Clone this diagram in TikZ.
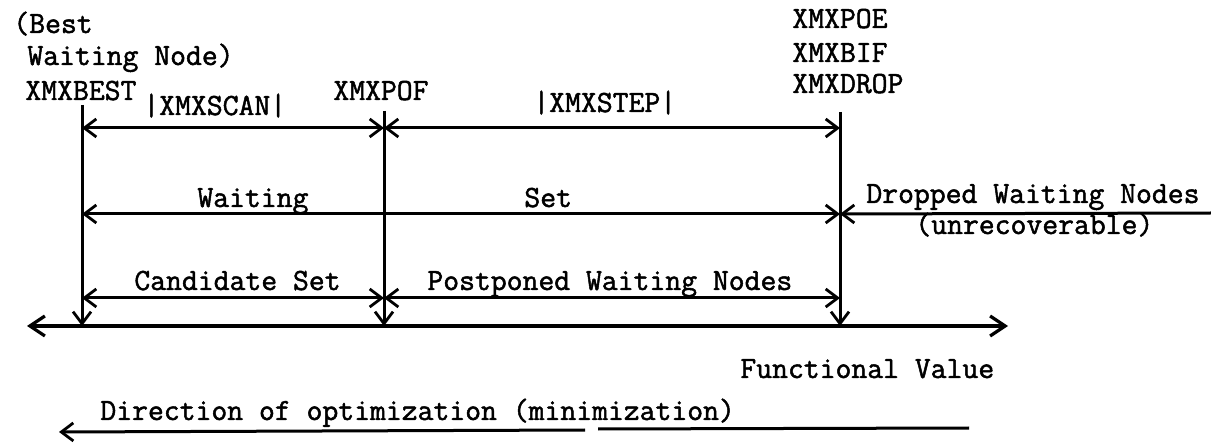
\documentclass[tikz,border=0pt]{standalone}
\usepackage{fontspec}
\usetikzlibrary{arrows.meta}
\newfontfamily\typewr{Latin Modern Mono}[FakeBold=1.6]
\newcommand{\tw}{\fontsize{15.4}{18}\typewr\bfseries}
\tikzset{
  lbl/.style={anchor=base west, inner sep=0pt, font=\tw},
  tipsmall/.tip={Straight Barb[length=6pt,width=9pt,line width=1.4pt]},
  tipbig/.tip={Straight Barb[length=7.5pt,width=10pt,line width=1.6pt]},
  rule/.style={line width=1.5pt},
  span/.style={rule, tipsmall-tipsmall},
}
\begin{document}
\begin{tikzpicture}[x=0.5pt,y=-0.5pt]
\useasboundingbox (0,0) rectangle (1211,443);

% marker positions on the value axis
\coordinate (bestTop) at (82,105);
\coordinate (pofTop)  at (384,111);
\coordinate (dropTop) at (840,112);
\coordinate (bestAx)  at (82,326);
\coordinate (pofAx)   at (384,326);
\coordinate (dropAx)  at (840,326);
\coordinate (axL)     at (27,326);
\coordinate (axR)     at (1008,326);

% interval rows
\coordinate (r1a) at (82,128);  \coordinate (r1b) at (384,128);  \coordinate (r1c) at (840,128);
\coordinate (r2a) at (82,214);  \coordinate (r2c) at (840,214);  \coordinate (r2e) at (1211,213);
\coordinate (r3a) at (82,298);  \coordinate (r3b) at (384,298);  \coordinate (r3c) at (840,298);

% optimization direction arrow
\coordinate (dirR)  at (969,428);
\coordinate (dirM1) at (598,429);
\coordinate (dirM2) at (585,430);
\coordinate (dirL)  at (59,432);

% labels
\node[lbl] (best1) at (13,33)  {(Best};
\node[lbl] (best2) at (27,65)  {Waiting Node)};
\node[lbl] (best3) at (25,100) {XMXBEST};
\node[lbl] (pof)   at (333,100) {XMXPOF};
\node[lbl] (poe)   at (792,28) {XMXPOE};
\node[lbl] (bif)   at (792,62) {XMXBIF};
\node[lbl] (drop)  at (792,93) {XMXDROP};
\node[lbl] (scan)  at (143,115) {|XMXSCAN|};
\node[lbl] (stepw) at (533,112) {|XMXSTEP|};
\node[lbl] (wt)    at (197,207) {Waiting};
\node[lbl] (wset)  at (524,207) {Set};
\node[lbl] (dwn)   at (866,203) {Dropped Waiting Nodes};
\node[lbl] (unrec) at (915,234) {(unrecoverable)};
\node[lbl] (cand)  at (134,290) {Candidate Set};
\node[lbl] (postp) at (427,290) {Postponed Waiting Nodes};
\node[lbl] (fval)  at (740,378) {Functional Value};
\node[lbl] (dirt)  at (100,420) {Direction of optimization (minimization)};

% vertical markers down to the axis
\draw[rule,-tipsmall] (bestTop) -- (bestAx);
\draw[rule,-tipsmall] (pofTop)  -- (pofAx);
\draw[rule,-tipsmall] (dropTop) -- (dropAx);

% value axis
\draw[line width=1.7pt,tipbig-tipbig] (axL) -- (axR);

% interval arrows
\draw[span] (r1a) -- (r1b);
\draw[span] (r1b) -- (r1c);
\draw[span] (r2a) -- (r2c);
\draw[rule,-tipsmall] (r2e) -- (r2c);
\draw[span] (r3a) -- (r3b);
\draw[span] (r3b) -- (r3c);

% direction of optimization
\draw[rule] (dirR) -- (dirM1);
\draw[rule,-tipsmall] (dirM2) -- (dirL);
\end{tikzpicture}
\end{document}
